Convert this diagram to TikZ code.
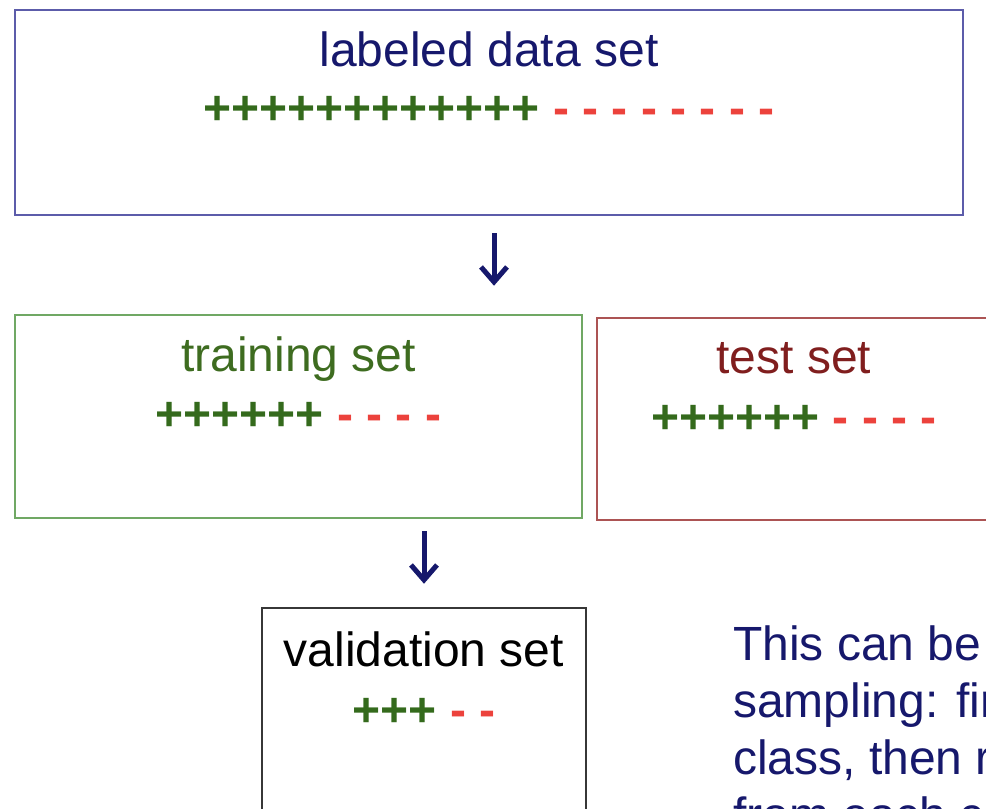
\documentclass[tikz,border=0pt]{standalone}
\usepackage{fontspec}
\setmainfont{Liberation Sans}
\usepackage{tikz}
\usetikzlibrary{arrows.meta,
                positioning}
\definecolor{datablue}{RGB}{92,92,170}
\definecolor{trainframe}{RGB}{112,168,100}
\definecolor{testframe}{RGB}{172,84,84}
\definecolor{validframe}{RGB}{55,55,55}
\definecolor{navy}{RGB}{22,24,108}
\definecolor{plusgreen}{RGB}{52,106,28}
\definecolor{minusred}{RGB}{236,66,60}
\definecolor{traingreen}{RGB}{62,108,32}
\definecolor{testred}{RGB}{128,30,30}
\tikzset{
        setbox/.style={draw, line width=2.5pt, inner sep=0pt},
        title/.style={inner sep=0pt, font=\fontsize{48}{57}\selectfont},
        signs/.style={inner sep=0pt, font=\fontsize{48}{57}\selectfont\bfseries},
        note/.style={inner sep=0pt, align=left, text=navy,
                     font=\fontsize{48}{57}\selectfont},
        myarrow/.style={-{Straight Barb[length=15pt, width=26pt, line width=5pt]},
                        line width=5pt, draw=navy},
 }
\newcommand{\pluses}[1]{\textcolor{plusgreen}{#1}}
\newcommand{\minuses}[1]{\textcolor{minusred}{#1}}

\begin{document}
\begin{tikzpicture}[x=1pt, y=-1pt]
    \useasboundingbox (0,0) rectangle (986,809);
    \clip (0,0) rectangle (986,809);

    \node[setbox, draw=datablue, minimum width=948pt, minimum height=205pt] (data) at (489,112.5) {};
    \node[title, text=navy, below=58pt of data.north, anchor=base] (datatitle) {labeled data set};
    \node[signs, below=116pt of data.north, anchor=base] (datasigns) {\pluses{++++++++++++} \minuses{- - - - - - - -}};

    \node[setbox, draw=trainframe, minimum width=567pt, minimum height=203pt] (train) at (298.5,416.5) {};
    \node[title, text=traingreen, below=58pt of train.north, anchor=base] (traintitle) {training set};
    \node[signs, below=117pt of train.north, anchor=base] (trainsigns) {\pluses{++++++} \minuses{- - - -}};

    \node[setbox, draw=testframe, minimum width=394pt, minimum height=202pt] (test) at (794,419) {};
    \node[title, text=testred, below=57pt of test.north, anchor=base] (testtitle) {test set};
    \node[signs, below=117pt of test.north, anchor=base] (testsigns) {\pluses{++++++} \minuses{- - - -}};

    \node[setbox, draw=validframe, minimum width=324pt, minimum height=292pt] (valid) at (424,754) {};
    \node[title, below=60pt of valid.north, anchor=base] (validtitle) {validation set};
    \node[signs, below=120pt of valid.north, anchor=base] (validsigns) {\pluses{+++} \minuses{- -}};

    \node[note, anchor=base west] (hint) at (733,831) {This can be\\sampling: fir\\class, then r\\from each c};

    \draw[myarrow, shorten <=17pt, shorten >=28pt] ([xshift=5pt]data.south) -- ([xshift=5pt]data.south |- train.north);
    \draw[myarrow, shorten <=12pt, shorten >=23pt] (valid.north |- train.south) -- (valid.north);
\end{tikzpicture}
\end{document}
